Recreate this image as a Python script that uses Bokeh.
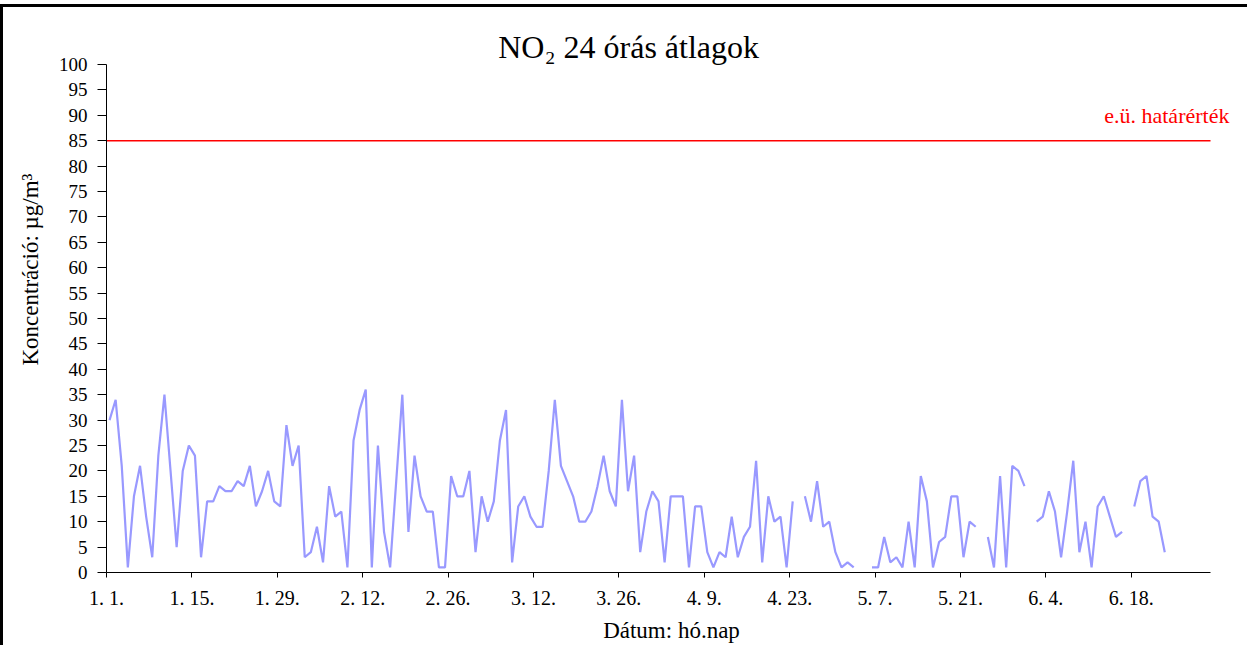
import numpy as np
import pandas as pd
from bokeh.plotting import figure
from bokeh.models import Range1d, FixedTicker, Label, Title, ColumnDataSource
from bokeh.embed import file_html
from bokeh.resources import INLINE

# daily NO2 24-hour averages (µg/m3), Jan 1 .. Jun 23; None = missing day
no2 = [30, 34, 21, 1, 15, 21, 11, 3, 23, 35, 20, 5, 20, 25, 23, 3, 14, 14, 17, 16,
       16, 18, 17, 21, 13, 16, 20, 14, 13, 29, 21, 25, 3, 4, 9, 2, 17, 11, 12, 1,
       26, 32, 36, 1, 25, 8, 1,
       18, 35, 8, 23, 15, 12, 12, 1, 1, 19, 15, 15, 20, 4, 15, 10, 14, 26, 32, 2,
       13, 15, 11, 9, 9, 20, 34, 21, 18, 15, 10, 10, 12, 17, 23, 16, 13, 34, 16, 23,
       4, 12, 16, 14, 2, 15, 15,
       15, 1, 13, 13, 4, 1, 4, 3, 11, 3, 7, 9, 22, 2, 15, 10, 11, 1, 14, None,
       15, 10, 18, 9, 10, 4, 1, 2, 1, None, None, 1, 1, 7, 2, 3, 1, 10, 1, 19,
       14, 1, 6, 7, 15, 15, 3, 10,
       9, None, 7, 1, 19, 1, 21, 20, 17, None, 10, 11, 16, 12, 3, 12, 22, 4, 10, 1,
       13, 15, 11, 7, 8, None, 13, 18, 19, 11, 10, 4]

start = pd.Timestamp("2019-01-01")
dates = pd.date_range(start, periods=len(no2), freq="D")
axis_end = pd.Timestamp("2019-07-01")

tick_dates = pd.date_range(start, periods=13, freq="14D")
tick_labels = [f"{d.month}. {d.day}." for d in tick_dates]

y_ticks = list(range(0, 101, 5))
y_max = 100
limit_value = 85
limit_text = "e.ü. határérték"

title_text = "NO\u2082 24 órás átlagok"
y_title = "Koncentráció: µg/m³"
x_title = "Dátum: hó.nap"

# day offsets (points sit in the middle of each day, as on an Excel date axis)
day_x = [(d - start).days + 0.5 for d in dates]
vals = [np.nan if v is None else v for v in no2]
src = ColumnDataSource(dict(x=day_x, y=vals))
tick_pos = [(d - start).days for d in tick_dates]
x_max = (axis_end - start).days

FONT = "Liberation Serif"

p = figure(width=1247, height=641, output_backend="svg", toolbar_location=None,
           x_range=Range1d(0, 185.26), y_range=Range1d(0, 108.66),
           min_border_left=103, min_border_right=14, min_border_top=13, min_border_bottom=76)
p.styles = {"border-left": "3px solid black", "border-top": "3px solid black",
            "margin-top": "4px"}
p.outline_line_color = None
p.xgrid.visible = False
p.ygrid.visible = False
p.background_fill_color = "white"
p.border_fill_color = "white"

p.line("x", "y", source=src, line_color="#9999FF", line_width=2.2)
p.segment(x0=[0], x1=[x_max], y0=[limit_value], y1=[limit_value],
          line_color="#FF0000", line_width=1.5)

p.xaxis.bounds = (0, x_max)
p.yaxis.bounds = (0, y_max)
p.xaxis.ticker = FixedTicker(ticks=tick_pos)
p.xaxis.major_label_overrides = {t: l for t, l in zip(tick_pos, tick_labels)}
p.xaxis.minor_tick_line_color = None
p.xaxis.major_tick_in = 0
p.xaxis.major_tick_out = 5
p.xaxis.major_label_standoff = 9
p.xaxis.major_label_text_font_size = "20px"
p.yaxis.ticker = FixedTicker(ticks=y_ticks)
p.yaxis.minor_tick_line_color = None
p.yaxis.major_tick_in = 0
p.yaxis.major_tick_out = 9
p.yaxis.major_label_standoff = 10
p.yaxis.major_label_text_font_size = "19px"
for ax in (p.xaxis, p.yaxis):
    ax.axis_line_color = "black"
    ax.major_tick_line_color = "black"
    ax.major_label_text_font = FONT
    ax.major_label_text_color = "black"

p.xaxis.axis_label = x_title
p.xaxis.axis_label_text_font = FONT
p.xaxis.axis_label_text_font_style = "normal"
p.xaxis.axis_label_text_font_size = "23px"
p.xaxis.axis_label_text_color = "black"
p.xaxis.axis_label_standoff = 6

p.add_layout(Title(text=y_title, align="left", offset=207, standoff=25,
                   text_font=FONT, text_font_size="23px", text_font_style="normal",
                   text_color="black"), "left")

p.add_layout(Label(x=85.6, y=103.4, text=title_text, text_align="center",
                   text_baseline="alphabetic", text_font=FONT, text_font_size="32px",
                   text_color="black"))
p.add_layout(Label(x=184.1, y=90.0, text=limit_text, text_align="right",
                   text_baseline="alphabetic", text_font=FONT, text_font_size="22px",
                   text_color="#FF0000"))

open("out.html", "w").write(file_html(p, INLINE))
